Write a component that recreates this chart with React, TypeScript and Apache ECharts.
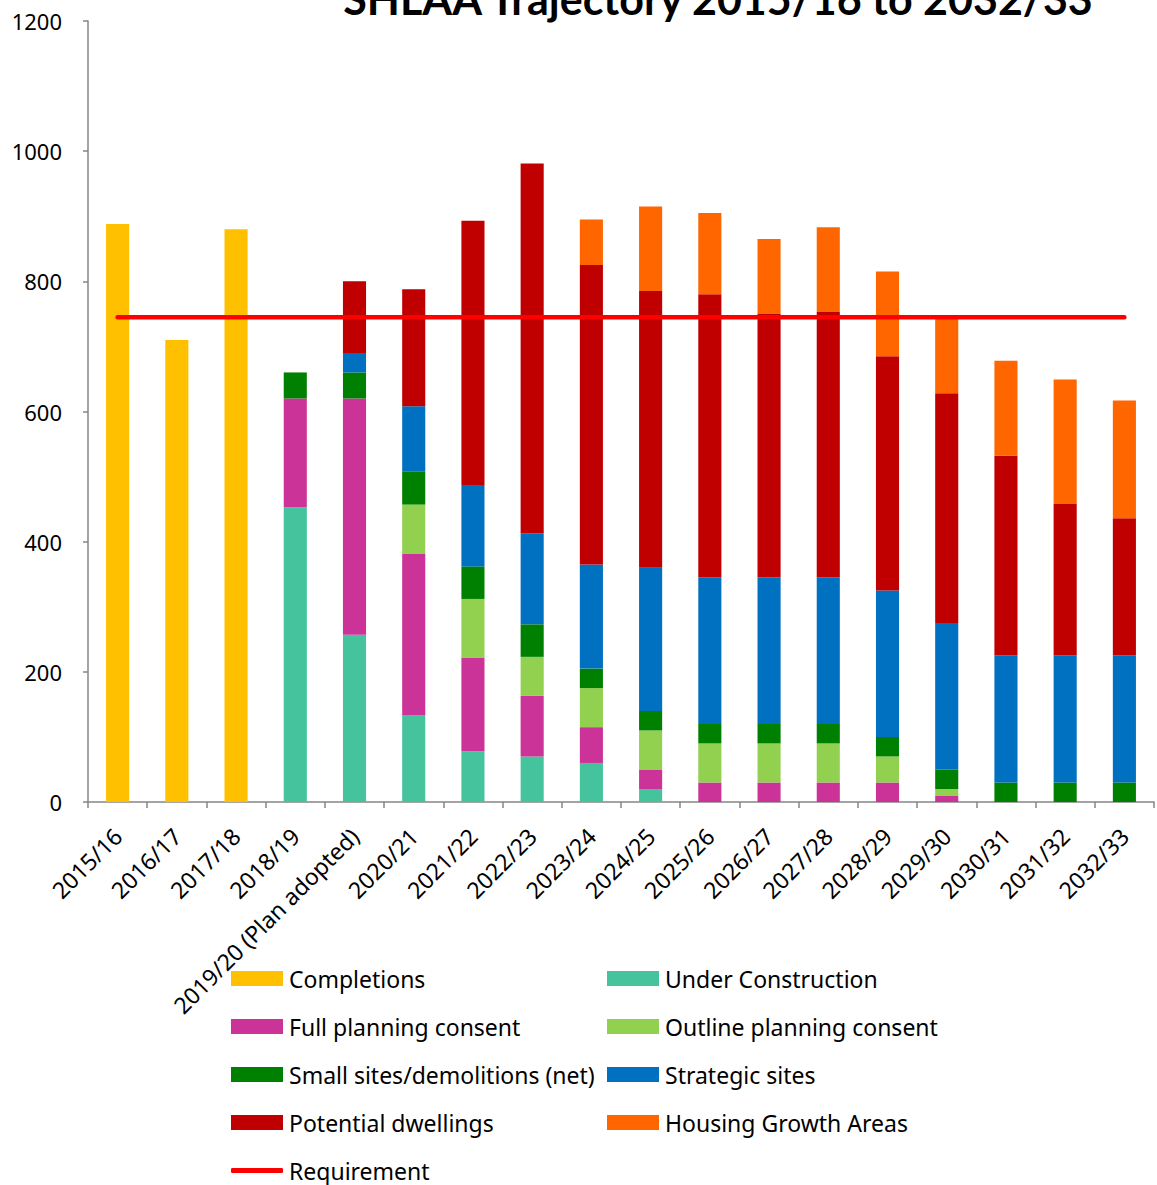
import React, { useEffect, useRef } from "react";
import * as echarts from "echarts";

const categories = [
  "2015/16", "2016/17", "2017/18", "2018/19", "2019/20 (Plan adopted)", "2020/21",
  "2021/22", "2022/23", "2023/24", "2024/25", "2025/26", "2026/27", "2027/28",
  "2028/29", "2029/30", "2030/31", "2031/32", "2032/33",
];

const completions = [888, 710, 880, 0, 0, 0, 0, 0, 0, 0, 0, 0, 0, 0, 0, 0, 0, 0];
const underConstruction = [0, 0, 0, 453, 257, 133, 78, 70, 60, 20, 0, 0, 0, 0, 0, 0, 0, 0];
const fullPlanning = [0, 0, 0, 167, 363, 248, 144, 93, 55, 30, 30, 30, 30, 30, 10, 0, 0, 0];
const outlinePlanning = [0, 0, 0, 0, 0, 76, 90, 60, 60, 60, 60, 60, 60, 40, 10, 0, 0, 0];
const smallSites = [0, 0, 0, 40, 40, 51, 50, 50, 30, 30, 30, 30, 30, 30, 30, 30, 30, 30];
const strategicSites = [0, 0, 0, 0, 30, 100, 125, 140, 160, 220, 225, 225, 225, 225, 225, 195, 195, 195];
const potentialDwellings = [0, 0, 0, 0, 110, 180, 406, 568, 460, 425, 435, 405, 408, 360, 353, 307, 233, 211];
const housingGrowthAreas = [0, 0, 0, 0, 0, 0, 0, 0, 70, 130, 125, 115, 130, 130, 117, 146, 191, 181];
const requirement = [745, 745, 745, 745, 745, 745, 745, 745, 745, 745, 745, 745, 745, 745, 745, 745, 745, 745];

const yTicks = { min: 0, max: 1200, interval: 200 };

const FONT = "Noto Sans";
const TITLE_FONT = "Lato";

export default function App() {
  const ref = useRef<HTMLDivElement>(null);

  useEffect(() => {
    if (!ref.current) return;
    const chart = echarts.init(ref.current, undefined, { renderer: "svg" });

    const barSeries = (name: string, data: number[], color: string) => ({
      name,
      type: "bar",
      stack: "total",
      data,
      barWidth: "39%",
      itemStyle: { color },
      emphasis: { disabled: true },
    });

    const legendBase = {
      orient: "vertical",
      padding: 0,
      itemWidth: 52,
      itemHeight: 15,
      itemGap: 25,
      textStyle: { fontSize: 23, fontFamily: FONT, color: "#000", padding: [0, 0, 0, 1] },
      selectedMode: false,
    };

    chart.setOption({
      animation: false,
      textStyle: { fontFamily: FONT, color: "#000" },
      graphic: [
        {
          type: "text",
          x: 718,
          y: 20,
          style: {
            text: "SHLAA Trajectory 2015/16 to 2032/33",
            font: `bold 43px ${TITLE_FONT}`,
            fill: "#000",
            align: "center",
            verticalAlign: "bottom",
          },
        },
      ],
      grid: { left: 88, right: 3, top: 21, bottom: 383, containLabel: false },
      xAxis: {
        type: "category",
        data: categories,
        axisLine: { lineStyle: { color: "#868686", width: 1.5 } },
        axisTick: { show: true, length: 6, lineStyle: { color: "#868686", width: 1.5 } },
        axisLabel: {
          rotate: 45,
          interval: 0,
          fontSize: 23,
          fontFamily: FONT,
          color: "#000",
          margin: 30,
        },
      },
      yAxis: {
        type: "value",
        min: yTicks.min,
        max: yTicks.max,
        interval: yTicks.interval,
        splitLine: { show: false },
        axisLine: { show: true, lineStyle: { color: "#868686", width: 1.5 } },
        axisTick: { show: true, length: 5, lineStyle: { color: "#868686", width: 1.5 } },
        axisLabel: {
          fontSize: 22,
          fontFamily: FONT,
          color: "#000",
          margin: 26,
          formatter: (v: number) => String(v),
        },
      },
      legend: [
        {
          ...legendBase,
          left: 231,
          top: 967,
          data: [
            { name: "Completions", icon: "rect" },
            { name: "Full planning consent", icon: "rect" },
            { name: "Small sites/demolitions (net)", icon: "rect" },
            { name: "Potential dwellings", icon: "rect" },
          ],
        },
        {
          ...legendBase,
          left: 607,
          top: 967,
          data: [
            { name: "Under Construction", icon: "rect" },
            { name: "Outline planning consent", icon: "rect" },
            { name: "Strategic sites", icon: "rect" },
            { name: "Housing Growth Areas", icon: "rect" },
          ],
        },
        {
          ...legendBase,
          left: 231,
          top: 1159,
          itemHeight: 5,
          data: [{ name: "Requirement", icon: "roundRect" }],
        },
      ],
      series: [
        barSeries("Completions", completions, "#FFC000"),
        barSeries("Under Construction", underConstruction, "#45C39C"),
        barSeries("Full planning consent", fullPlanning, "#CC3399"),
        barSeries("Outline planning consent", outlinePlanning, "#92D050"),
        barSeries("Small sites/demolitions (net)", smallSites, "#008000"),
        barSeries("Strategic sites", strategicSites, "#0070C0"),
        barSeries("Potential dwellings", potentialDwellings, "#C00000"),
        barSeries("Housing Growth Areas", housingGrowthAreas, "#FF6600"),
        {
          name: "Requirement",
          type: "line",
          data: requirement,
          symbol: "none",
          showSymbol: false,
          itemStyle: { color: "#FF0000" },
          lineStyle: { color: "#FF0000", width: 4.5, cap: "round" },
          emphasis: { disabled: true },
          z: 5,
        },
      ],
    });

    return () => chart.dispose();
  }, []);

  return (
    <div
      ref={ref}
      style={{ position: "absolute", left: 0, top: 0, width: 1157, height: 1185 }}
    />
  );
}
